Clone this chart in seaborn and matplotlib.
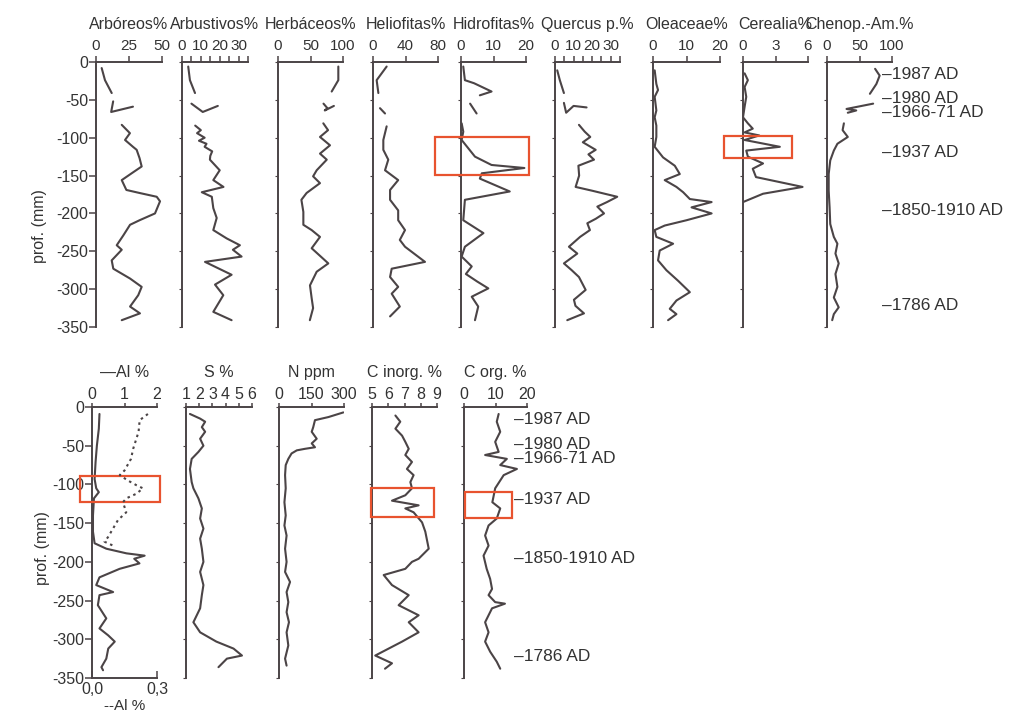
import numpy as np
import pandas as pd
import matplotlib
matplotlib.use("Agg")
import matplotlib.pyplot as plt
import matplotlib.transforms as mtransforms
from matplotlib.patches import Rectangle
import seaborn as sns

nan = np.nan

# ---- top row: pollen percentages (depth in mm, value) ----
arb_depth = [-8, -24, -41, nan, -52, -66, -59, nan,
             -83, -94, -103, -112, -116, -127, -138, -147, -156, -169, -173, -178, -184, -200, -209,
             -215, -229, -242, -248, -262, -273, -286, -297, -308, -323, -332, -341]
arb_val = [4.3, 6.8, 11.9, nan, 13, 11.5, 28, nan,
           19.5, 25.7, 22, 28, 30.8, 33, 34.6, 27, 19.5, 23, 33, 46, 48.5, 44.7, 33,
           25.8, 20.7, 15.7, 19.5, 11.9, 13.1, 25.8, 34.6, 32, 25.8, 33.3, 19.5]

arbu_depth = [-6, -24, -41, nan, -55, -66, -58, nan,
              -84, -90, -94, -100, -104, -108, -112, -118, -124, -129, -143, -156, -165, -172, -178,
              -193, -206, -222, -233, -242, -248, -257, -264, -281, -294, -308, -330, -341]
arbu_val = [3.3, 4.2, 6.9, nan, 5, 11, 19, nan,
            7, 10, 8, 12, 9, 13, 12, 16, 15, 14.8, 20, 16.6, 22, 10.5, 15.8,
            16.6, 18.4, 16.6, 23.7, 30.7, 27, 31.6, 12.2, 26.3, 17.5, 21.9, 16.6, 26.3]

herb_depth = [-6, -24, -39, nan, -55, -61, -64, -58, nan,
              -81, -90, -99, -110, -121, -129, -143, -151, -160, -173, -182, -198, -215, -222, -231,
              -246, -266, -277, -295, -312, -325, -341]
herb_val = [92.8, 92.8, 82.6, nan, 70, 76, 72, 86, nan,
            69.7, 77, 64.6, 80, 64.6, 75, 59.5, 54, 64.6, 44, 36, 39, 39, 51.8, 64.6,
            51.8, 77.4, 59.5, 49.2, 51.8, 54, 49]

helio_depth = [-6, -24, -41, nan, -61, -68, nan,
               -85, -103, -116, -129, -143, -156, -169, -182, -196, -209, -222, -235, -244, -264,
               -273, -284, -297, -306, -323, -336]
helio_val = [16.8, 4.5, 6.6, nan, 8.6, 14.8, nan,
             16.8, 12.7, 12.7, 18.8, 14.8, 31, 21, 21, 31, 31, 39.4, 33, 39.4, 64,
             23, 21, 31, 23, 33, 21]

hidro_depth = [-6, -24, -28, -39, -44, nan, -55, -68, nan,
               -81, -92, -103, -125, -136, -140, -147, -154, -171, -182, -209, -226, -244, -257,
               -270, -280, -290, -299, -310, -323, -341]
hidro_val = [0.7, 1.2, 4, 9.4, 5.8, nan, 2.8, 4.8, nan,
             0.2, 0.7, 0.2, 4.3, 9.4, 19.5, 6.4, 5.8, 15, 1.2, 0.7, 6.9, 1.2, 0.2,
             3.3, 1.5, 5, 8.4, 3.3, 5.3, 4.3]

quer_depth = [-11, -24, -41, nan, -54, -67, -58, -60, nan,
              -83, -92, -99, -106, -116, -122, -129, -137, -150, -165, -170, -178, -185, -191, -200,
              -207, -213, -222, -231, -244, -253, -266, -275, -284, -301, -314, -322, -332, -341]
quer_val = [1.2, 2.6, 4.8, nan, 4.8, 6, 10, 17, nan,
            12.9, 16, 19, 15, 21.9, 18, 21, 12.6, 13, 11.1, 20, 33.5, 28, 22.8, 26.4,
            22, 17.4, 18.8, 13.5, 7.5, 12, 4.8, 9, 12.9, 16.5, 10.2, 11, 15.6, 6.6]

olea_depth = [-11, -29, -37, -46, -64, -73, -84, -99, -112, -126, -137, -148, -156, -165, -172,
              -181, -185, -192, -200, -209, -216, -222, -231, -240, -249, -262, -275, -289, -304,
              -315, -326, -333, -341]
olea_val = [0.5, 1, 1.5, 0.5, 1, 0.5, 1, 1, 0.5, 3, 6.5, 8, 3.5, 7, 9,
            11, 17.5, 11.5, 17.5, 10, 3.5, 0.5, 1, 6, 2, 1.5, 4, 7.5, 11,
            7, 5, 7, 4.5]

cere_depth = [-15, -24, -33, -46, -59, -73, -81, -88, -93, -97, -103, -112, -117, -125, -134,
              -141, -152, -165, -174, -185]
cere_val = [0.15, 0.45, 0.15, 0.3, 0.15, 0, 0.45, 0.9, 0.15, 1.5, 0.15, 3.4, 0.3, 0.45, 1.85,
            0.9, 1.2, 5.5, 1.85, 0]

chen_depth = [-9, -18, -29, -42, nan, -55, -62, -64, -67, nan,
              -81, -90, -99, -108, -117, -130, -148, -170, -192, -214, -231, -240, -253, -266,
              -280, -297, -311, -324, -333, -341]
chen_val = [74, 81, 76, 66, nan, 71, 30, 45, 32, nan,
            26, 24, 32, 16, 10.5, 5, 2.6, 2.6, 4, 5, 10.5, 16, 13, 18,
            13, 16, 10.5, 18, 10.5, 8]

# ---- bottom row: geochemistry ----
al_depth = [-9, -28, -50, -71, -93, -105, -110, -118, -140, -161, -176, -183, -189, -192, -196,
            -202, -209, -220, -230, -239, -243, -256, -273, -286, -295, -303, -312, -325, -336, -340]
al_val = [0.23, 0.21, 0.15, 0.11, 0.08, 0.13, 0.21, 0.06, 0.03, 0.03, 0.08, 0.44, 1.06, 1.62, 1.3,
          1.46, 0.85, 0.23, 0.13, 0.65, 0.23, 0.18, 0.44, 0.23, 0.5, 0.7, 0.5, 0.44, 0.29, 0.34]

al2_depth = [-9, -17, -32, -54, -67, -82, -88, -95, -101, -105, -112, -118, -123, -136, -146,
             -157, -168, -174, -179]
al2_val = [0.258, 0.22, 0.215, 0.19, 0.18, 0.15, 0.128, 0.166, 0.205, 0.235, 0.205, 0.158, 0.143,
           0.158, 0.12, 0.097, 0.074, 0.058, 0.097]

s_depth = [-9, -15, -19, -26, -32, -41, -50, -58, -67, -80, -97, -105, -118, -131, -144, -157,
           -170, -183, -200, -213, -230, -243, -260, -278, -291, -303, -312, -321, -325, -336]
s_val = [1.3, 2.07, 2.45, 2.2, 2.45, 2.07, 2.32, 1.94, 1.43, 1.3, 1.43, 1.56, 1.94, 2.2, 2.07, 2.32,
         2.07, 2.2, 2.32, 2.07, 2.32, 2.2, 2.07, 1.56, 2.07, 3.3, 4.6, 5.24, 4.1, 3.46]

n_depth = [-7, -13, -17, -26, -32, -41, -47, -52, -54, -56, -60, -67, -75, -88, -105, -123, -140,
           -153, -166, -183, -200, -213, -226, -239, -252, -265, -278, -291, -308, -325, -334]
n_val = [297, 228, 166, 158, 151, 174, 151, 166, 120, 82, 58, 43, 31, 28, 31, 25, 31,
         25, 35, 28, 35, 28, 51, 35, 43, 35, 46, 35, 43, 28, 35]

cin_depth = [-11, -19, -28, -37, -45, -54, -62, -71, -80, -88, -97, -105, -114, -121, -127, -131,
             -136, -149, -161, -183, -196, -200, -209, -217, -230, -243, -256, -269, -278, -291,
             -303, -321, -331, -338]
cin_val = [6.44, 6.74, 6.44, 6.85, 7.05, 7.26, 7.05, 7.46, 7.15, 7.56, 7.36, 7.46, 7.05, 6.23, 7.87,
           7.05, 7.56, 8.08, 8.28, 8.49, 7.87, 7.46, 7.05, 5.72, 6.23, 7.26, 6.64, 7.87, 7.26, 7.87,
           6.85, 5.2, 6.23, 5.8]

corg_depth = [-9, -19, -32, -45, -58, -62, -67, -75, -80, -88, -105, -123, -131, -144, -153, -166,
              -179, -192, -209, -222, -235, -243, -252, -254, -260, -278, -291, -303, -316, -329, -338]
corg_val = [11, 10.4, 11.5, 9.9, 11, 6.7, 13.6, 11.5, 16.8, 12.6, 9.9, 9, 11.5, 10.4, 7.8, 6.7,
            7.8, 6.2, 7.2, 8.3, 8.9, 7.8, 9.9, 13, 8.9, 6.7, 7.8, 6.7, 8.3, 10.4, 11.5]

date_labels = ["–1987 AD", "–1980 AD", "–1966-71 AD", "–1937 AD", "–1850-1910 AD", "–1786 AD"]
date_depths = [-16, -48, -67, -120, -196, -322]

# highlighted intervals (x0, x1, depth top, depth bottom) in each panel's units
box_hidro = (-7.9, 20.8, -99, -149)
box_cere = (-1.8, 4.5, -98, -127)
box_al = (-0.38, 2.08, -89, -123)
box_cin = (4.96, 8.79, -104, -142)
box_corg = (0.2, 15.2, -110, -144)

# ---- style ----
sns.set_theme(style="white")
plt.rcParams["font.family"] = ["Liberation Sans", "DejaVu Sans"]
plt.rcParams["axes.unicode_minus"] = False

LINE = "#4b4446"
TXT = "#333333"
RED = "#e8532f"
W, H = 1024, 725

fig = plt.figure(figsize=(W / 100, H / 100), dpi=100)
fig.patch.set_facecolor("white")


def px_axes(x0, x1, ytop, ybot):
    return fig.add_axes([x0 / W, 1 - ybot / H, (x1 - x0) / W, (ybot - ytop) / H])


def draw_line(ax, depth, val, **kw):
    df = pd.DataFrame({"depth": depth, "val": val})
    df["seg"] = df["val"].isna().cumsum()
    df = df.dropna()
    sns.lineplot(data=df, x="val", y="depth", units="seg", estimator=None, sort=False,
                 orient="y", color=LINE, lw=1.5, legend=False, ax=ax, **kw)
    ax.set_xlabel("")
    ax.set_ylabel("")


def style(ax, title, xlim, ticks, labels, ytop, ybot, first, title_base, tlen, tpad, fs_tick):
    ax.set_xlim(xlim)
    ax.set_ylim(-350, 0)
    ax.set_facecolor("none")
    ax.grid(False)
    ax.xaxis.tick_top()
    ax.set_xticks(ticks)
    ax.set_xticklabels(labels)
    for s in ["right", "bottom"]:
        ax.spines[s].set_visible(False)
    for s in ["top", "left"]:
        ax.spines[s].set_color(LINE)
        ax.spines[s].set_linewidth(1.4)
    ax.tick_params(axis="x", top=True, bottom=False, length=tlen, width=1.1, color=LINE,
                   direction="out", pad=tpad, labelsize=fs_tick, labelcolor=TXT)
    ax.set_yticks(np.arange(-350, 1, 50))
    if first:
        ax.set_yticklabels([str(v) for v in np.arange(-350, 1, 50)])
        ax.tick_params(axis="y", left=True, length=5, width=1.1, color=LINE, pad=0.5,
                       labelsize=11.5, labelcolor=TXT)
    else:
        ax.tick_params(axis="y", left=True, length=2, width=0.8, color=LINE, labelleft=False)
    h = ybot - ytop
    ax.text(0.5, 1 + (ytop - title_base) / h, title, transform=ax.transAxes, ha="center",
            va="baseline", fontsize=11.5, color=TXT)


def add_box(ax, box):
    x0, x1, d0, d1 = box
    ax.add_patch(Rectangle((x0, d1), x1 - x0, d0 - d1, fill=False, ec=RED, lw=1.6,
                           clip_on=False, zorder=5))


# ---- top row ----
T0, T1 = 62, 327
top = [
    ("Arbóreos%", arb_depth, arb_val, (0, 50), [0, 25, 50], ["0", "25", "50"], 96, 162, None),
    ("Arbustivos%", arbu_depth, arbu_val, (0, 35), list(range(0, 36, 5)),
     ["0", "", "10", "", "20", "", "30", ""], 182, 248, None),
    ("Herbáceos%", herb_depth, herb_val, (0, 100), [0, 50, 100], ["0", "50", "100"], 278, 343, None),
    ("Heliofitas%", helio_depth, helio_val, (0, 80), [0, 40, 80], ["0", "40", "80"], 373, 438, None),
    ("Hidrofitas%", hidro_depth, hidro_val, (0, 20), [0, 10, 20], ["0", "10", "20"], 461, 526, box_hidro),
    ("Quercus p.%", quer_depth, quer_val, (0, 35), list(range(0, 36, 5)),
     ["0", "", "10", "", "20", "", "30", ""], 555, 620, None),
    ("Oleaceae%", olea_depth, olea_val, (0, 20), [0, 10, 20], ["0", "10", "20"], 653, 720, None),
    ("Cerealia%", cere_depth, cere_val, (0, 6), [0, 3, 6], ["0", "3", "6"], 743, 808, box_cere),
    ("Chenop.-Am.%", chen_depth, chen_val, (0, 100), [0, 50, 100], ["0", "50", "100"], 827, 892, None),
]
for i, (title, d, v, xlim, ticks, labels, x0, x1, box) in enumerate(top):
    ax = px_axes(x0, x1, T0, T1)
    draw_line(ax, d, v)
    style(ax, title, xlim, ticks, labels, T0, T1, i == 0, 29, 4, 2.5, 11)
    if box:
        add_box(ax, box)
    if i == 0:
        ax.set_ylabel("prof. (mm)", fontsize=11.5, color=TXT)
        ax.yaxis.set_label_coords(-0.74, 0.38)
    if i == len(top) - 1:
        tr = mtransforms.blended_transform_factory(fig.transFigure, ax.transData)
        for lab, dd in zip(date_labels, date_depths):
            ax.text(882 / W, dd, lab, transform=tr, ha="left", va="center", fontsize=12.5, color=TXT)

# ---- bottom row ----
B0, B1 = 407, 678
bottom = [
    ("—Al %", al_depth, al_val, (0, 2), [0, 1, 2], ["0", "1", "2"], 92, 157, box_al),
    ("S %", s_depth, s_val, (1, 6), [1, 2, 3, 4, 5, 6], ["1", "2", "3", "4", "5", "6"], 186, 252, None),
    ("N ppm", n_depth, n_val, (0, 300), [0, 150, 300], ["0", "150", "300"], 279, 344, None),
    ("C inorg. %", cin_depth, cin_val, (5, 9), [5, 6, 7, 8, 9], ["5", "6", "7", "8", "9"], 372, 437, box_cin),
    ("C org. %", corg_depth, corg_val, (0, 20), [0, 10, 20], ["0", "10", "20"], 464, 527, box_corg),
]
for i, (title, d, v, xlim, ticks, labels, x0, x1, box) in enumerate(bottom):
    ax = px_axes(x0, x1, B0, B1)
    if i == 0:
        ax2 = ax.twiny()
        draw_line(ax2, al2_depth, al2_val, linestyle=(0, (1.2, 1.8)))
        ax2.set_xlim(0, 0.3)
        ax2.set_ylim(-350, 0)
        ax2.xaxis.set_ticks_position("bottom")
        ax2.xaxis.set_label_position("bottom")
        ax2.set_xticks([0, 0.3])
        ax2.set_xticklabels(["0,0", "0,3"])
        for s in ["top", "right", "left"]:
            ax2.spines[s].set_visible(False)
        ax2.spines["bottom"].set_color(LINE)
        ax2.spines["bottom"].set_linewidth(1.4)
        ax2.tick_params(axis="x", bottom=True, top=False, direction="in", length=5, width=1.1,
                        color=LINE, pad=3, labelsize=11.5, labelcolor=TXT)
        ax2.set_xlabel("--Al %", fontsize=11, color=TXT, labelpad=1)
        ax2.grid(False)
    draw_line(ax, d, v)
    style(ax, title, xlim, ticks, labels, B0, B1, i == 0, 377, 3, 0.5, 11.5)
    if box:
        add_box(ax, box)
    if i == 0:
        ax.set_ylabel("prof. (mm)", fontsize=11.5, color=TXT)
        ax.yaxis.set_label_coords(-0.65, 0.48)
    if i == len(bottom) - 1:
        tr = mtransforms.blended_transform_factory(fig.transFigure, ax.transData)
        for lab, dd in zip(date_labels, date_depths):
            ax.text(514 / W, dd, lab, transform=tr, ha="left", va="center", fontsize=12.5, color=TXT)

fig.savefig("out.png", dpi=100, facecolor="white")
